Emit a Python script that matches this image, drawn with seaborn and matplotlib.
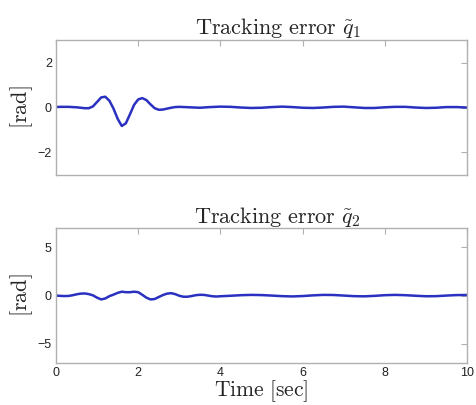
import numpy as np
import pandas as pd
import matplotlib
matplotlib.use("Agg")
import matplotlib.pyplot as plt
import seaborn as sns

# time samples (sec): fine grid over the transient, coarser afterwards
t_q1 = [0.0, 0.1, 0.2, 0.3, 0.4, 0.5, 0.6, 0.7, 0.8, 0.9,
        1.0, 1.1, 1.2, 1.3, 1.4, 1.5, 1.6, 1.7, 1.8, 1.9,
        2.0, 2.1, 2.2, 2.3, 2.4, 2.5, 2.6, 2.7, 2.8, 2.9, 3.0,
        3.25, 3.5, 3.75, 4.0, 4.25, 4.5, 4.75, 5.0, 5.25, 5.5, 5.75,
        6.0, 6.25, 6.5, 6.75, 7.0, 7.25, 7.5, 7.75, 8.0, 8.25, 8.5,
        8.75, 9.0, 9.25, 9.5, 9.75, 10.0]
q1_err = [0.02, 0.03, 0.03, 0.03, 0.02, 0.01, -0.01, -0.03, -0.03, 0.05,
          0.25, 0.45, 0.48, 0.3, -0.05, -0.5, -0.82, -0.7, -0.3, 0.12,
          0.36, 0.42, 0.33, 0.14, -0.03, -0.1, -0.09, -0.05, -0.01, 0.02, 0.03,
          0.01, -0.01, 0.02, 0.04, 0.03, 0.0, -0.02, -0.01, 0.02, 0.04, 0.02,
          -0.01, -0.02, 0.0, 0.03, 0.04, 0.01, -0.02, -0.02, 0.01, 0.03, 0.03,
          0.0, -0.02, -0.01, 0.02, 0.02, 0.0]

t_q2 = [0.0, 0.1, 0.2, 0.3, 0.4, 0.5, 0.6, 0.7, 0.8, 0.9,
        1.0, 1.1, 1.2, 1.3, 1.4, 1.5, 1.6, 1.7, 1.8, 1.9,
        2.0, 2.1, 2.2, 2.3, 2.4, 2.5, 2.6, 2.7, 2.8, 2.9,
        3.0, 3.1, 3.2, 3.3, 3.4, 3.5, 3.6, 3.7, 3.8, 3.9, 4.0,
        4.25, 4.5, 4.75, 5.0, 5.25, 5.5, 5.75, 6.0, 6.25, 6.5, 6.75,
        7.0, 7.25, 7.5, 7.75, 8.0, 8.25, 8.5, 8.75, 9.0, 9.25, 9.5,
        9.75, 10.0]
q2_err = [0.0, -0.03, -0.05, -0.04, 0.03, 0.13, 0.2, 0.22, 0.15, 0.02,
          -0.22, -0.4, -0.3, -0.06, 0.1, 0.28, 0.4, 0.35, 0.35, 0.4,
          0.35, 0.08, -0.22, -0.4, -0.36, -0.15, 0.05, 0.2, 0.25, 0.15,
          -0.02, -0.12, -0.12, -0.05, 0.04, 0.08, 0.07, 0.0, -0.07, -0.1, -0.07,
          -0.02, 0.04, 0.07, 0.05, 0.0, -0.06, -0.09, -0.05, 0.02, 0.07, 0.06,
          0.0, -0.06, -0.08, -0.03, 0.04, 0.07, 0.04, -0.02, -0.07, -0.06, 0.0,
          0.05, 0.06]

x_ticks = [0, 2, 4, 6, 8, 10]
y_ticks_q1 = [-2, 0, 2]
y_ticks_q2 = [-5, 0, 5]

sns.set_style("white")
plt.rcParams['font.family'] = ['Liberation Sans', 'DejaVu Sans']
plt.rcParams['mathtext.fontset'] = 'cm'

line_color = "#2a30c0"
spine_color = "#b0b0b0"

fig = plt.figure(figsize=(4.77, 4.05), dpi=100)
ax1 = fig.add_axes([0.1174, 0.568, 0.8616, 0.333])
ax2 = fig.add_axes([0.1174, 0.1037, 0.8616, 0.333])

df1 = pd.DataFrame({"t": t_q1, "err": q1_err})
df2 = pd.DataFrame({"t": t_q2, "err": q2_err})

sns.lineplot(data=df1, x="t", y="err", ax=ax1, color=line_color, linewidth=1.8)
sns.lineplot(data=df2, x="t", y="err", ax=ax2, color=line_color, linewidth=1.8)

for ax, yt, lim in [(ax1, y_ticks_q1, 3), (ax2, y_ticks_q2, 7)]:
    ax.set_xlim(0, 10)
    ax.set_ylim(-lim, lim)
    ax.set_xticks(x_ticks)
    ax.set_yticks(yt)
    ax.tick_params(direction="in", length=4, width=0.8, color=spine_color,
                   top=True, right=True, labelsize=9, labelcolor="#222222", pad=3)
    for s in ax.spines.values():
        s.set_color(spine_color)
        s.set_linewidth(1.0)
    ax.set_ylabel(r"$[\mathrm{rad}]$", fontsize=16, labelpad=2)

ax1.set_xticklabels([])
ax1.set_xlabel("")
ax1.set_title(r"$\mathrm{Tracking\ error}\ \tilde{q}_1$", fontsize=16, x=0.54, pad=4)
ax2.set_title(r"$\mathrm{Tracking\ error}\ \tilde{q}_2$", fontsize=16, x=0.54, pad=4)
ax2.set_xlabel(r"$\mathrm{Time\ [sec]}$", fontsize=15.5, labelpad=-1)

fig.savefig("out.png", dpi=100)
